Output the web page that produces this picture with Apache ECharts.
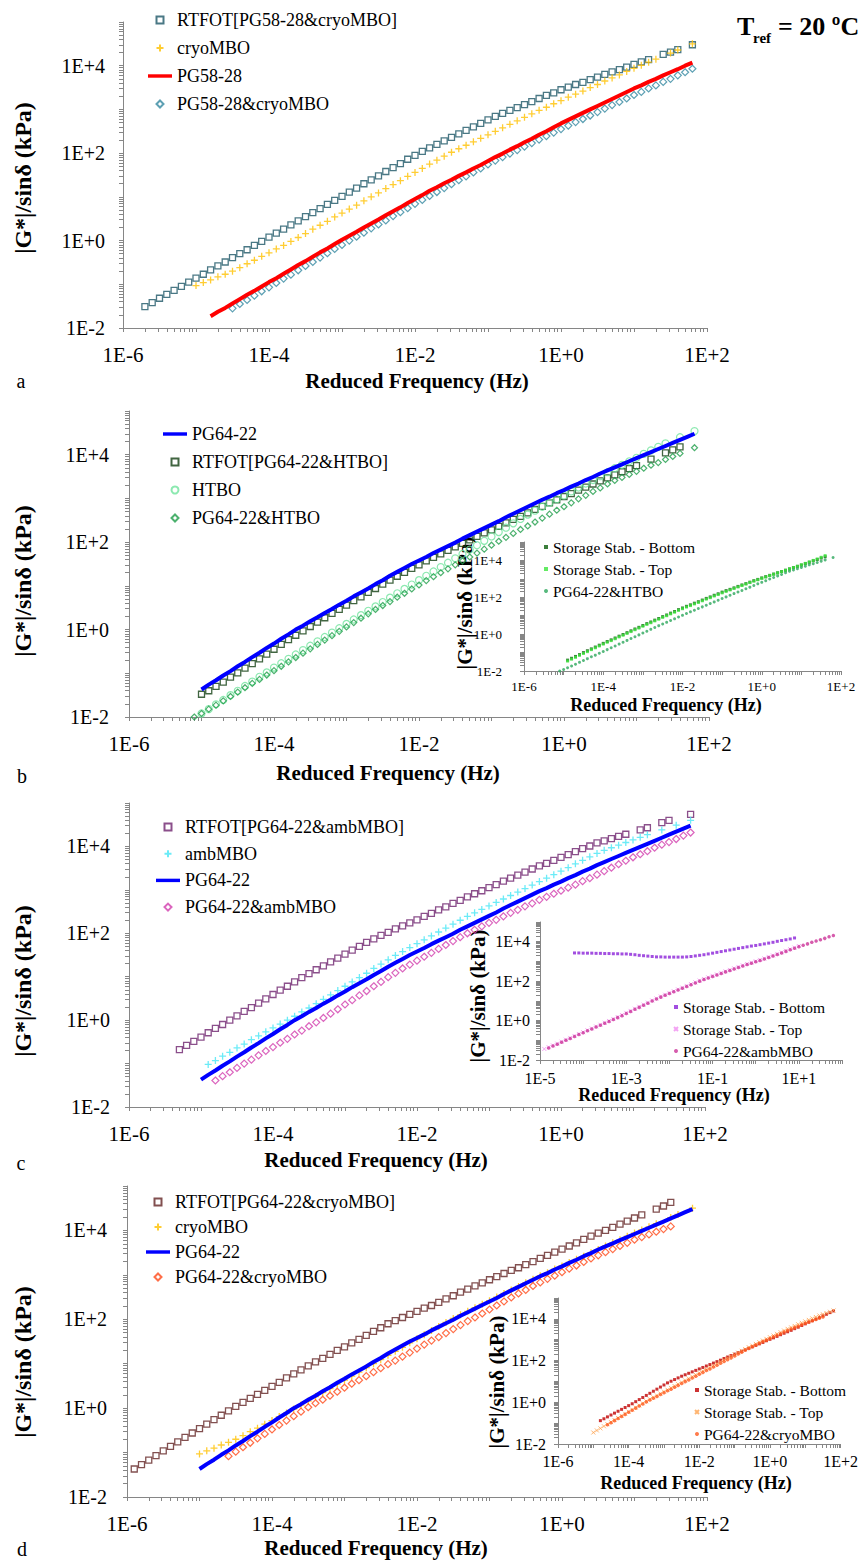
<!DOCTYPE html>
<html>
<head>
<meta charset="utf-8">
<title>|G*|/sinδ master curves, Tref = 20 ºC</title>
<script src="https://cdn.jsdelivr.net/npm/echarts@6/dist/echarts.min.js"></script>
<style>
  html, body { margin: 0; padding: 0; background: #fff; }
  #chart { width: 861px; height: 1562px; }
</style>
</head>
<body>
<div id="chart"></div>
<script>
const logFreq = [
  -6.0, -5.9, -5.8, -5.7, -5.6, -5.5, -5.4, -5.3, -5.2, -5.1,
  -5.0, -4.9, -4.8, -4.7, -4.6, -4.5, -4.4, -4.3, -4.2, -4.1,
  -4.0, -3.9, -3.8, -3.7, -3.6, -3.5, -3.4, -3.3, -3.2, -3.1,
  -3.0, -2.9, -2.8, -2.7, -2.6, -2.5, -2.4, -2.3, -2.2, -2.1,
  -2.0, -1.9, -1.8, -1.7, -1.6, -1.5, -1.4, -1.3, -1.2, -1.1,
  -1.0, -0.9, -0.8, -0.7, -0.6, -0.5, -0.4, -0.3, -0.2, -0.1,
  0.0, 0.1, 0.2, 0.3, 0.4, 0.5, 0.6, 0.7, 0.8, 0.9,
  1.0, 1.1, 1.2, 1.3, 1.4, 1.5, 1.6, 1.7, 1.8, 1.9,
  2.0
];

// tick labels
const mainXLabels = [1e-6, 1e-4, 1e-2, 1e0, 1e2];
const mainYLabels = [1e-2, 1e0, 1e2, 1e4];
const insetCXLabels = [1e-5, 1e-3, 1e-1, 1e1];

// log10 of |G*|/sinδ (kPa), one value per logFreq step, starting at *From
// (a) PG58-28 set
const aRtfotFrom = -5.7;
const aRtfot = [
  -1.51, -1.42, -1.32, -1.23, -1.14, -1.05, -0.95,
  -0.86, -0.77, -0.67, -0.58, -0.49, -0.39, -0.30, -0.21, -0.11, -0.02,
  0.08, 0.17, 0.26, 0.36, 0.45, 0.55, 0.64, 0.73, 0.83, 0.92,
  1.01, 1.11, 1.20, 1.30, 1.39, 1.48, 1.58, 1.67, 1.76, 1.86,
  1.95, 2.04, 2.12, 2.20, 2.28, 2.36, 2.44, 2.52, 2.60, 2.68,
  2.76, 2.84, 2.91, 2.98, 3.04, 3.11, 3.18, 3.25, 3.32, 3.38,
  3.45, 3.51, 3.57, 3.62, 3.68, 3.74, 3.80, 3.86, 3.91, 3.97,
  4.03, 4.09, 4.14, null, 4.26, 4.31, 4.37, null, 4.48
];
const cryoFrom = -5.0;
const cryo = [
  -1.03, -0.96, -0.90, -0.83, -0.77, -0.70, -0.62, -0.53, -0.45, -0.36,
  -0.28, -0.19, -0.11, -0.02, 0.07, 0.16, 0.26, 0.35, 0.44, 0.54,
  0.63, 0.72, 0.81, 0.91, 1.00, 1.09, 1.19, 1.28, 1.37, 1.47,
  1.56, 1.65, 1.75, 1.84, 1.93, 2.02, 2.10, 2.18, 2.26, 2.34,
  2.42, 2.50, 2.58, 2.66, 2.74, 2.82, 2.90, 2.98, 3.05, 3.13,
  3.20, 3.28, 3.35, 3.42, 3.50, 3.57, 3.65, 3.72, 3.79, 3.87,
  3.94, 4.01, 4.08, 4.15, null, 4.29, 4.36, null, 4.50
];
const pg5828From = -4.8;
const pg5828 = [
  -1.73, -1.63, -1.54, -1.44, -1.34, -1.24, -1.15, -1.05,
  -0.95, -0.86, -0.76, -0.66, -0.56, -0.47, -0.37, -0.27, -0.18, -0.08,
  0.02, 0.11, 0.20, 0.30, 0.39, 0.48, 0.58, 0.67, 0.76, 0.86,
  0.95, 1.04, 1.14, 1.22, 1.31, 1.39, 1.48, 1.56, 1.65, 1.73,
  1.82, 1.91, 1.99, 2.08, 2.16, 2.25, 2.33, 2.42, 2.50, 2.59,
  2.68, 2.76, 2.84, 2.92, 3.00, 3.08, 3.16, 3.24, 3.32, 3.40,
  3.48, 3.55, 3.63, 3.70, 3.78, 3.85, 3.92, 4.00, 4.07
];
const aBlendFrom = -4.5;
const aBlend = [
  -1.55, -1.45, -1.36, -1.26, -1.16,
  -1.07, -0.97, -0.87, -0.78, -0.68, -0.58, -0.49, -0.39, -0.29, -0.19,
  -0.10, 0.00, 0.09, 0.18, 0.28, 0.37, 0.46, 0.56, 0.65, 0.74,
  0.84, 0.93, 1.02, 1.11, 1.20, 1.29, 1.38, 1.47, 1.56, 1.65,
  1.74, 1.83, 1.91, 1.99, 2.07, 2.15, 2.23, 2.31, 2.39, 2.47,
  2.55, 2.63, 2.71, 2.78, 2.86, 2.94, 3.02, 3.10, 3.17, 3.25,
  3.33, 3.40, 3.48, 3.55, 3.63, 3.70, 3.78, 3.85, 3.93
];

// PG64-22 base binder, same curve in (b), (c), (d)
const pg6422From = -5.0;
const pg6422 = [
  -1.37, -1.26, -1.16, -1.05, -0.95, -0.84, -0.74, -0.63, -0.53, -0.42,
  -0.32, -0.21, -0.11, 0.00, 0.09, 0.19, 0.28, 0.38, 0.47, 0.57,
  0.66, 0.76, 0.85, 0.94, 1.04, 1.13, 1.23, 1.32, 1.41, 1.50,
  1.58, 1.66, 1.75, 1.83, 1.91, 1.99, 2.08, 2.16, 2.24, 2.32,
  2.40, 2.48, 2.57, 2.65, 2.73, 2.81, 2.89, 2.97, 3.04, 3.12,
  3.19, 3.27, 3.34, 3.42, 3.49, 3.57, 3.64, 3.71, 3.78, 3.85,
  3.92, 3.99, 4.06, 4.13, 4.20, 4.27, 4.34, 4.41, 4.48
];

// (b) HTBO set
const bRtfotFrom = -5.0;
const bRtfot = [
  -1.48, -1.40, -1.30, -1.20, -1.09, -0.99, -0.88, -0.78, -0.67, -0.56,
  -0.45, -0.34, -0.23, -0.13, -0.03, 0.07, 0.17, 0.27, 0.37, 0.46,
  0.56, 0.66, 0.75, 0.85, 0.94, 1.04, 1.13, 1.22, 1.31, 1.40,
  1.48, 1.57, 1.65, 1.73, 1.81, 1.89, 1.97, 2.05, 2.13, 2.21,
  2.28, 2.36, 2.44, 2.52, 2.59, 2.67, 2.75, 2.82, 2.90, 2.97,
  3.04, 3.11, 3.19, 3.26, 3.33, 3.40, 3.47, 3.54, 3.61, 3.68,
  3.75, null, 3.90, null, 4.04, 4.11, 4.18
];
const htboFrom = -5.0;
const htbo = [
  -1.92, -1.82, -1.71, -1.61, -1.50, -1.40, -1.29, -1.19, -1.08, -0.98,
  -0.87, -0.77, -0.67, -0.57, -0.47, -0.37, -0.27, -0.17, -0.07, 0.03,
  0.13, 0.23, 0.33, 0.43, 0.53, 0.63, 0.73, 0.83, 0.93, 1.03,
  1.13, 1.23, 1.33, 1.43, 1.53, 1.63, 1.73, 1.83, 1.93, 2.03,
  2.13, 2.23, 2.33, 2.43, 2.53, 2.63, 2.72, 2.81, 2.90, 2.98,
  3.07, 3.16, 3.25, 3.34, 3.42, 3.51, 3.60, 3.69, 3.77, 3.85,
  3.93, 4.02, 4.10, 4.18, 4.26, null, 4.40, null, 4.54
];
const bBlendFrom = -5.1;
const bBlend = [
  -2.00,
  -1.92, -1.82, -1.73, -1.63, -1.53, -1.43, -1.33, -1.23, -1.14, -1.04,
  -0.94, -0.84, -0.74, -0.64, -0.54, -0.44, -0.34, -0.24, -0.14, -0.04,
  0.06, 0.16, 0.26, 0.36, 0.46, 0.55, 0.64, 0.74, 0.83, 0.93,
  1.02, 1.12, 1.21, 1.30, 1.39, 1.48, 1.57, 1.66, 1.75, 1.84,
  1.93, 2.02, 2.11, 2.20, 2.29, 2.37, 2.46, 2.55, 2.64, 2.73,
  2.81, 2.90, 2.99, 3.07, 3.16, 3.24, 3.33, 3.41, 3.48, 3.55,
  3.62, 3.69, 3.76, 3.82, 3.89, 3.96, 4.03, null, 4.16
];
const bBottomFrom = -4.9;
const bBottom = [
  -1.41, -1.31, -1.21, -1.11, -1.00, -0.90, -0.80, -0.70, -0.60,
  -0.50, -0.40, -0.31, -0.21, -0.11, -0.02, 0.08, 0.18, 0.28, 0.37,
  0.47, 0.57, 0.66, 0.76, 0.85, 0.95, 1.04, 1.14, 1.23, 1.33,
  1.42, 1.51, 1.59, 1.68, 1.76, 1.85, 1.94, 2.02, 2.11, 2.19,
  2.28, 2.36, 2.43, 2.51, 2.59, 2.67, 2.74, 2.82, 2.90, 2.97,
  3.05, 3.12, 3.19, 3.26, 3.33, 3.40, 3.47, 3.54, 3.61, 3.68,
  3.75, 3.83, 3.90, 3.98, 4.05, 4.13, 4.20
];
const bTopFrom = -4.9;
const bTop = [
  -1.46, -1.36, -1.26, -1.15, -1.05, -0.95, -0.84, -0.74, -0.64,
  -0.54, -0.44, -0.35, -0.25, -0.15, -0.06, 0.04, 0.14, 0.24, 0.33,
  0.43, 0.53, 0.62, 0.72, 0.81, 0.91, 1.00, 1.10, 1.19, 1.29,
  1.38, 1.47, 1.55, 1.64, 1.72, 1.81, 1.90, 1.98, 2.07, 2.15,
  2.24, 2.32, 2.40, 2.48, 2.56, 2.64, 2.72, 2.80, 2.88, 2.95,
  3.03, 3.10, 3.18, 3.25, 3.32, 3.39, 3.46, 3.54, 3.61, 3.68,
  3.76, 3.84, 3.92, 4.00, 4.08, 4.17, 4.26
];

// (c) ambMBO set
const cRtfotFrom = -5.3;
const cRtfot = [
  -0.68, -0.58, -0.49,
  -0.39, -0.29, -0.19, -0.10, 0.00, 0.10, 0.20, 0.29, 0.39, 0.49,
  0.59, 0.69, 0.78, 0.88, 0.98, 1.07, 1.16, 1.25, 1.34, 1.43,
  1.52, 1.61, 1.70, 1.79, 1.87, 1.95, 2.02, 2.10, 2.17, 2.24,
  2.31, 2.39, 2.46, 2.54, 2.61, 2.69, 2.76, 2.84, 2.91, 2.98,
  3.05, 3.12, 3.20, 3.27, 3.34, 3.41, 3.48, 3.55, 3.61, 3.68,
  3.75, 3.81, 3.88, 3.95, 4.01, 4.08, 4.13, 4.18, 4.23, 4.28,
  null, 4.38, 4.43, null, 4.55, 4.60, null, null, 4.74
];
const ambFrom = -4.9;
const amb = [
  -1.02, -0.93, -0.83, -0.74, -0.64, -0.55, -0.45, -0.36, -0.27,
  -0.18, -0.09, 0.00, 0.09, 0.19, 0.28, 0.38, 0.48, 0.58, 0.68,
  0.78, 0.88, 0.98, 1.08, 1.19, 1.29, 1.39, 1.49, 1.58, 1.67,
  1.76, 1.85, 1.94, 2.03, 2.12, 2.21, 2.30, 2.39, 2.47, 2.55,
  2.63, 2.71, 2.79, 2.87, 2.95, 3.03, 3.11, 3.19, 3.27, 3.35,
  3.43, 3.51, 3.60, 3.68, 3.76, 3.84, 3.91, 3.97, 4.03, 4.09,
  4.15, 4.21, 4.27, null, 4.38, null, 4.49, null, 4.60
];
const cBlendFrom = -4.8;
const cBlend = [
  -1.39, -1.29, -1.20, -1.10, -1.00, -0.91, -0.81, -0.71,
  -0.62, -0.52, -0.43, -0.33, -0.24, -0.14, -0.05, 0.05, 0.15, 0.25,
  0.36, 0.46, 0.57, 0.67, 0.78, 0.88, 0.99, 1.09, 1.19, 1.28,
  1.37, 1.46, 1.55, 1.64, 1.73, 1.82, 1.91, 2.00, 2.08, 2.16,
  2.24, 2.31, 2.39, 2.47, 2.54, 2.62, 2.69, 2.77, 2.84, 2.91,
  2.98, 3.05, 3.12, 3.20, 3.27, 3.35, 3.43, 3.51, 3.59, 3.67,
  3.75, 3.82, 3.89, 3.97, 4.04, 4.10, 4.17, 4.25, 4.32
];
const cBottomFrom = -4.2;
const cBottom = [
  3.43, 3.43,
  3.42, 3.42, 3.42, 3.41, 3.41, 3.40, 3.40, 3.39, 3.39, 3.38,
  3.38, 3.36, 3.34, 3.31, 3.29, 3.27, 3.25, 3.23, 3.23, 3.22,
  3.22, 3.22, 3.22, 3.22, 3.23, 3.25, 3.28, 3.31, 3.34, 3.38,
  3.42, 3.46, 3.50, 3.54, 3.58, 3.62, 3.66, 3.70, 3.74, 3.78,
  3.81, 3.85, 3.89, 3.93, 3.97, 4.02, 4.06, 4.10, 4.14, 4.19
];
const cTopFrom = -4.9;
const cTop = [
  -1.44, -1.35, -1.26, -1.17, -1.07, -0.97, -0.88, -0.78, -0.68,
  -0.59, -0.49, -0.40, -0.30, -0.21, -0.11, -0.02, 0.08, 0.18, 0.28,
  0.39, 0.49, 0.60, 0.70, 0.81, 0.91, 1.02, 1.12, 1.22, 1.31,
  1.40, 1.49, 1.58, 1.67, 1.76, 1.85, 1.94, 2.03, 2.11, 2.19,
  2.27, 2.34, 2.42, 2.50, 2.57, 2.65, 2.72, 2.80, 2.87, 2.94,
  3.01, 3.08, 3.15, 3.23, 3.30, 3.38, 3.46, 3.54, 3.62, 3.70,
  3.78
];

// (d) cryoMBO on PG64-22 set
const dRtfotFrom = -5.9;
const dRtfot = [
  -1.37, -1.27, -1.17, -1.07, -0.96, -0.86, -0.76, -0.66, -0.56,
  -0.46, -0.36, -0.26, -0.16, -0.06, 0.04, 0.13, 0.22, 0.31, 0.40,
  0.49, 0.58, 0.68, 0.77, 0.86, 0.95, 1.04, 1.12, 1.21, 1.30,
  1.38, 1.47, 1.55, 1.64, 1.73, 1.81, 1.90, 1.97, 2.04, 2.11,
  2.18, 2.25, 2.31, 2.38, 2.46, 2.53, 2.61, 2.68, 2.75, 2.82,
  2.89, 2.96, 3.03, 3.10, 3.16, 3.23, 3.30, 3.37, 3.44, 3.51,
  3.58, 3.65, 3.72, 3.80, 3.87, 3.94, 4.00, 4.07, 4.14, 4.21,
  4.28, 4.35, null, 4.48, 4.55, 4.63
];
const dBlendFrom = -4.6;
const dBlend = [
  -1.08, -0.98, -0.88, -0.78, -0.68, -0.58,
  -0.48, -0.38, -0.28, -0.18, -0.08, 0.02, 0.11, 0.19, 0.28, 0.37,
  0.46, 0.55, 0.63, 0.72, 0.81, 0.90, 0.99, 1.07, 1.16, 1.25,
  1.34, 1.43, 1.52, 1.60, 1.69, 1.78, 1.87, 1.96, 2.04, 2.13,
  2.22, 2.31, 2.40, 2.49, 2.58, 2.66, 2.75, 2.83, 2.91, 2.98,
  3.06, 3.14, 3.21, 3.29, 3.37, 3.44, 3.51, 3.58, 3.65, 3.72,
  3.79, 3.85, 3.91, 3.97, 4.03, 4.09
];
const dBottomFrom = -4.8;
const dBottom = [
  -0.88, -0.79, -0.70, -0.61, -0.52, -0.43, -0.34, -0.25,
  -0.16, -0.07, 0.03, 0.13, 0.23, 0.33, 0.43, 0.53, 0.63, 0.73,
  0.83, 0.93, 1.01, 1.09, 1.17, 1.25, 1.32, 1.39, 1.46, 1.53,
  1.60, 1.67, 1.74, 1.81, 1.88, 1.95, 2.02, 2.10, 2.17, 2.24,
  2.31, 2.38, 2.45, 2.52, 2.59, 2.66, 2.73, 2.80, 2.87, 2.95,
  3.02, 3.09, 3.16, 3.24, 3.31, 3.38, 3.45, 3.53, 3.60, 3.68,
  3.76, 3.84, 3.91, 3.99, 4.07, 4.15, 4.22, 4.30, 4.38
];
const dTopFrom = -5.0;
const dTop = [
  -1.45, -1.35, -1.25, -1.15, -1.05, -0.95, -0.85, -0.75, -0.65, -0.55,
  -0.45, -0.35, -0.25, -0.15, -0.05, 0.05, 0.15, 0.24, 0.33, 0.42,
  0.51, 0.60, 0.69, 0.78, 0.87, 0.96, 1.05, 1.14, 1.23, 1.32,
  1.41, 1.50, 1.58, 1.67, 1.76, 1.85, 1.94, 2.03, 2.12, 2.20,
  2.29, 2.38, 2.47, 2.55, 2.64, 2.72, 2.80, 2.88, 2.96, 3.04,
  3.12, 3.20, 3.28, 3.36, 3.44, 3.52, 3.59, 3.66, 3.74, 3.81,
  3.88, 3.95, 4.02, 4.09, 4.16, 4.22, 4.28, 4.34, 4.40
];

const SERIF = 'Liberation Serif, serif';
const GREY = '#868686';
const SQUARE = 'path://M0,0L10,0L10,10L0,10Z';
const DIAMOND = 'path://M5,0L10,5L5,10L0,5Z';
const PLUS = 'path://M5,0L5,10M0,5L10,5';
const CROSS = 'path://M0,0L10,10M10,0L0,10';
const BAR = 'path://M0,0L28,0L28,4L0,4Z';

function fmtExp(v) {
  const e = Math.round(Math.log10(v));
  return '1E' + (e >= 0 ? '+' : '') + e;
}

// tick marks at 1..9 x 10^e, like the spreadsheet's minor ticks
function logTicks(lo, hi) {
  const t = [];
  for (let e = lo; e < hi; e++) {
    for (let k = 1; k < 10; k++) t.push(k * Math.pow(10, e));
  }
  t.push(Math.pow(10, hi));
  return t;
}

function pts(from, logG) {
  const k = logFreq.findIndex(f => Math.abs(f - from) < 1e-6);
  const out = [];
  logG.forEach((v, i) => {
    if (v !== null) out.push([Math.pow(10, logFreq[k + i]), Math.pow(10, v)]);
  });
  return out;
}

function xAx(grid, lo, hi, labels, fs, margin) {
  return {
    type: 'log', logBase: 10, gridIndex: grid,
    min: Math.pow(10, lo), max: Math.pow(10, hi),
    axisLine: { lineStyle: { color: GREY, width: 1 } },
    axisTick: { customValues: logTicks(lo, hi), length: 4, lineStyle: { color: GREY } },
    axisLabel: { customValues: labels, formatter: fmtExp, fontFamily: SERIF, fontSize: fs, color: '#000', margin: margin },
    splitLine: { show: false }
  };
}

function yAx(grid, fs, margin) {
  return {
    type: 'log', logBase: 10, gridIndex: grid,
    min: 1e-2, max: 1e5,
    axisLine: { show: true, lineStyle: { color: GREY, width: 1 } },
    axisTick: { show: true, customValues: logTicks(-2, 5), length: 4, lineStyle: { color: GREY } },
    axisLabel: { customValues: mainYLabels, formatter: fmtExp, fontFamily: SERIF, fontSize: fs, color: '#000', margin: margin },
    splitLine: { show: false }
  };
}

function marks(name, idx, data, symbol, size, color, hollow, bw) {
  return {
    type: 'scatter', name: name, xAxisIndex: idx, yAxisIndex: idx, data: data,
    symbol: symbol, symbolSize: size, silent: true,
    itemStyle: hollow ? { color: 'transparent', borderColor: color, borderWidth: bw || 1.2 } : { color: color }
  };
}

function curve(name, idx, data, color) {
  return {
    type: 'line', name: name, xAxisIndex: idx, yAxisIndex: idx, data: data,
    symbol: 'none', showSymbol: false, silent: true,
    itemStyle: { color: color }, lineStyle: { color: color, width: 4 }
  };
}

function legendBox(items, left, top, fs, gap, w, h) {
  return {
    orient: 'vertical', left: left, top: top, padding: 0,
    itemWidth: w, itemHeight: h, itemGap: gap, selectedMode: false, symbolKeepAspect: true,
    data: items.map(it => typeof it === 'string' ? { name: it } : it),
    formatter: n => n.split('#')[0],
    textStyle: { fontFamily: SERIF, fontSize: fs, lineHeight: fs, color: '#000' }
  };
}

function txt(x, y, text, font, rot, align) {
  return {
    type: 'text', x: x, y: y, rotation: rot || 0, silent: true,
    style: {
      text: text, font: font, fill: '#000',
      textAlign: align || 'center', align: align || 'center',
      textVerticalAlign: 'middle', verticalAlign: 'middle'
    }
  };
}

const chart = echarts.init(document.getElementById('chart'), null, { renderer: 'svg' });

const xTitleFont = 'bold 21px ' + SERIF;
const yTitleFont = 'bold 24px ' + SERIF;
const insetXTitleFont = 'bold 18px ' + SERIF;
const insetYTitleFont = 'bold 21px ' + SERIF;
const yTitle = '|G*|/sinδ (kPa)';
const xTitle = 'Reduced Frequency (Hz)';

const option = {
  animation: false,
  backgroundColor: '#fff',
  textStyle: { fontFamily: SERIF },
  grid: [
    { left: 123, top: 22, width: 584, height: 306 },
    { left: 129, top: 411, width: 580, height: 306 },
    { left: 129, top: 803, width: 576, height: 304 },
    { left: 127, top: 1186, width: 580, height: 311 },
    { left: 524, top: 542, width: 317, height: 129 },
    { left: 540, top: 922, width: 302, height: 138 },
    { left: 558, top: 1298, width: 288, height: 146 }
  ],
  xAxis: [
    xAx(0, -6, 2, mainXLabels, 21, 16),
    xAx(1, -6, 2, mainXLabels, 21, 16),
    xAx(2, -6, 2, mainXLabels, 21, 16),
    xAx(3, -6, 2, mainXLabels, 21, 16),
    xAx(4, -6, 2, mainXLabels, 13, 9),
    xAx(5, -5, 2, insetCXLabels, 16, 10),
    xAx(6, -6, 2, mainXLabels, 16, 9)
  ],
  yAxis: [
    yAx(0, 20, 18),
    yAx(1, 20, 20),
    yAx(2, 20, 19),
    yAx(3, 20, 20),
    yAx(4, 13, 22),
    yAx(5, 16, 10),
    yAx(6, 16, 12)
  ],
  legend: [
    legendBox(['RTFOT[PG58-28&cryoMBO]#a', 'cryoMBO#a', { name: 'PG58-28#a', icon: BAR }, 'PG58-28&cryoMBO#a'], 148, 11, 18, 10, 24, 7),
    legendBox([{ name: 'PG64-22#b', icon: BAR }, 'RTFOT[PG64-22&HTBO]#b', 'HTBO#b', 'PG64-22&HTBO#b'], 163, 425, 18, 10, 24, 7),
    legendBox(['RTFOT[PG64-22&ambMBO]#c', 'ambMBO#c', { name: 'PG64-22#c', icon: BAR }, 'PG64-22&ambMBO#c'], 156, 818, 18, 8.7, 24, 7),
    legendBox(['RTFOT[PG64-22&cryoMBO]#d', 'cryoMBO#d', { name: 'PG64-22#d', icon: BAR }, 'PG64-22&cryoMBO#d'], 146, 1193, 18, 7, 24, 7),
    legendBox(['Storage Stab. - Bottom#b', 'Storage Stab. - Top#b', 'PG64-22&HTBO#bi'], 544, 539, 15.5, 6, 4, 4),
    legendBox(['Storage Stab. - Bottom#c', 'Storage Stab. - Top#c', 'PG64-22&ambMBO#ci'], 673, 999, 15.5, 6, 4, 4),
    legendBox(['Storage Stab. - Bottom#d', 'Storage Stab. - Top#d', 'PG64-22&cryoMBO#di'], 694, 1382, 15.5, 6, 4, 4)
  ],
  series: [
    // a
    marks('RTFOT[PG58-28&cryoMBO]#a', 0, pts(aRtfotFrom, aRtfot), SQUARE, 6, '#1d5666', true, 1.3),
    marks('cryoMBO#a', 0, pts(cryoFrom, cryo), PLUS, 7, '#ffc000', true, 1.3),
    curve('PG58-28#a', 0, pts(pg5828From, pg5828), '#ff0000'),
    marks('PG58-28&cryoMBO#a', 0, pts(aBlendFrom, aBlend), DIAMOND, 7, '#3588a0', true),
    // b
    curve('PG64-22#b', 1, pts(pg6422From, pg6422), '#0000ff'),
    marks('RTFOT[PG64-22&HTBO]#b', 1, pts(bRtfotFrom, bRtfot), SQUARE, 6, '#123f12', true, 1.3),
    marks('HTBO#b', 1, pts(htboFrom, htbo), 'circle', 7, '#6fe39c', true),
    marks('PG64-22&HTBO#b', 1, pts(bBlendFrom, bBlend), DIAMOND, 6, '#1f9e4a', true),
    // c
    marks('RTFOT[PG64-22&ambMBO]#c', 2, pts(cRtfotFrom, cRtfot), SQUARE, 6, '#6e236e', true, 1.3),
    marks('ambMBO#c', 2, pts(ambFrom, amb), PLUS, 7, '#46e6f5', true, 1.3),
    curve('PG64-22#c', 2, pts(pg6422From, pg6422), '#0000ff'),
    marks('PG64-22&ambMBO#c', 2, pts(cBlendFrom, cBlend), DIAMOND, 7, '#d23fae', true),
    // d
    marks('RTFOT[PG64-22&cryoMBO]#d', 3, pts(dRtfotFrom, dRtfot), SQUARE, 6, '#632424', true, 1.3),
    marks('cryoMBO#d', 3, pts(cryoFrom, cryo), PLUS, 7, '#ffc000', true, 1.3),
    curve('PG64-22#d', 3, pts(pg6422From, pg6422), '#0000ff'),
    marks('PG64-22&cryoMBO#d', 3, pts(dBlendFrom, dBlend), DIAMOND, 7, '#ff4a1a', true),
    // inset b
    marks('Storage Stab. - Bottom#b', 4, pts(bBottomFrom, bBottom), SQUARE, 3, '#0b5e0b', false),
    marks('Storage Stab. - Top#b', 4, pts(bTopFrom, bTop), SQUARE, 3, '#3ce63c', false),
    marks('PG64-22&HTBO#bi', 4, pts(bBlendFrom, bBlend), 'circle', 3, '#2da85c', false),
    // inset c
    marks('Storage Stab. - Bottom#c', 5, pts(cBottomFrom, cBottom), SQUARE, 3, '#8b22d8', false),
    marks('Storage Stab. - Top#c', 5, pts(cTopFrom, cTop), CROSS, 4, '#f08cf0', true, 1),
    marks('PG64-22&ambMBO#ci', 5, pts(cBlendFrom, cBlend), 'circle', 3.5, '#cc3399', false),
    // inset d
    marks('Storage Stab. - Bottom#d', 6, pts(dBottomFrom, dBottom), SQUARE, 3, '#c00000', false),
    marks('Storage Stab. - Top#d', 6, pts(dTopFrom, dTop), CROSS, 4, '#ffa24d', true, 1),
    marks('PG64-22&cryoMBO#di', 6, pts(dBlendFrom, dBlend), 'circle', 3.5, '#ff5a1f', false)
  ],
  graphic: [
    txt(23, 178, yTitle, yTitleFont, Math.PI / 2),
    txt(23, 581, yTitle, yTitleFont, Math.PI / 2),
    txt(23, 981, yTitle, yTitleFont, Math.PI / 2),
    txt(23, 1362, yTitle, yTitleFont, Math.PI / 2),
    txt(417, 381, xTitle, xTitleFont),
    txt(388, 773, xTitle, xTitleFont),
    txt(376, 1160, xTitle, xTitleFont),
    txt(376, 1548, xTitle, xTitleFont),
    txt(21, 381, 'a', '20px ' + SERIF),
    txt(22, 776, 'b', '20px ' + SERIF),
    txt(21, 1163, 'c', '20px ' + SERIF),
    txt(22, 1549, 'd', '20px ' + SERIF),
    txt(465, 603, yTitle, insetYTitleFont, Math.PI / 2),
    txt(478, 996, yTitle, insetYTitleFont, Math.PI / 2),
    txt(497, 1382, yTitle, insetYTitleFont, Math.PI / 2),
    txt(666, 705, xTitle, insetXTitleFont),
    txt(674, 1095, xTitle, insetXTitleFont),
    txt(696, 1483, xTitle, insetXTitleFont),
    txt(737, 26, 'T', 'bold 26px ' + SERIF, 0, 'left'),
    txt(753, 38, 'ref', 'bold 15px ' + SERIF, 0, 'left'),
    txt(778, 26, '= 20 ºC', 'bold 26px ' + SERIF, 0, 'left')
  ]
};

chart.setOption(option);
</script>
</body>
</html>
